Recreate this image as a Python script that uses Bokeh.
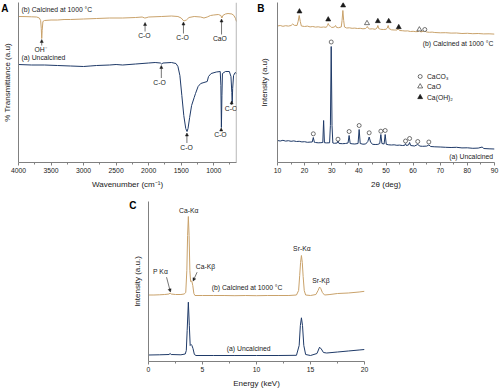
from bokeh.plotting import figure
from bokeh.models import Label, Arrow, NormalHead, FixedTicker, Span, Range1d
from bokeh.layouts import column, row
from bokeh.embed import file_html
from bokeh.resources import INLINE

FONT = "Liberation Sans"
CAL = "#c9a26b"
UNC = "#1f3a68"
AX = "#808080"
TXT = "#1a1a1a"
FS = "6.8px"

# ---------------- Panel A : FTIR ----------------
ftir_cal_wn = [4000, 3900, 3800, 3720, 3680, 3660, 3650, 3643, 3636, 3625, 3600, 3500, 3400, 3300,
               3200, 3000, 2800, 2600, 2400, 2200, 2100, 2060, 2040, 2000, 1800, 1650, 1550, 1500,
               1460, 1420, 1380, 1300, 1200, 1150, 1100, 1050, 1000, 930, 890, 875, 860, 820, 780,
               720, 690, 665, 650]
ftir_cal_t = [146, 145.9, 145.7, 145.5, 144.5, 142, 134, 124, 132, 141, 142, 142.5, 142.5, 143,
              143, 143.5, 144, 144.5, 144.5, 145, 145.5, 144.5, 144.7, 145.5, 146, 146.5, 146, 144.5,
              141.5, 142.5, 145, 146, 145.5, 144.5, 145.5, 147, 147.5, 148, 147, 144.5, 147, 148.5, 149,
              148.5, 147, 144, 141]
ftir_unc_wn = [4000, 3800, 3600, 3400, 3200, 3000, 2900, 2800, 2600, 2500, 2400, 2200, 2000, 1900,
               1820, 1800, 1780, 1650, 1580, 1550, 1520, 1490, 1460, 1430, 1410, 1395, 1370, 1340,
               1300, 1280, 1240, 1200, 1150, 1100, 1080, 1040, 960, 900, 890, 882, 874, 866, 820,
               760, 735, 722, 716, 709, 695, 670, 650]
ftir_unc_t = [98, 97.5, 97.5, 97, 96.5, 96, 96.5, 97, 97.5, 98, 97.5, 98.5, 99.5, 100,
              99.5, 98.5, 99.5, 100, 99, 96, 87, 67, 47, 34, 31, 34, 45, 57,
              65, 69, 76, 79, 80, 81, 86, 89, 90.5, 91, 77, 35, 67, 89, 91,
              91, 86, 70, 60, 74, 87, 90, 89]
ftir_ticks = [4000, 3500, 3000, 2500, 2000, 1500, 1000]
ftir_minor = [3750, 3250, 2750, 2250, 1750, 1250, 750]

# ---------------- Panel B : XRD ----------------
xrd_cal_2t = [10, 11, 12, 13, 14, 15, 15.6, 16.2, 17.2, 17.6, 18.0, 18.4, 18.8, 20, 21, 22, 23, 24,
              25, 26, 27, 28, 28.4, 28.7, 29.0, 29.5, 30, 31, 31.4, 31.8, 32.5, 33.5, 33.8, 34.1,
              34.4, 34.7, 35.5, 36.5, 37.5, 38.5, 39.5, 40.5, 41.5, 42.5, 42.8, 43.1, 43.4, 44, 45,
              46, 46.7, 47.0, 47.3, 48, 49, 50, 50.5, 50.8, 51.1, 52, 53, 54, 54.4, 54.7, 55, 56, 57,
              58, 59, 60, 61, 62, 62.4, 62.8, 64.2, 65, 66, 67, 68, 70, 72, 74, 76, 78, 80, 82, 84,
              86, 88, 90]
xrd_cal_i = [136.5, 137, 136.2, 136.8, 136.4, 137, 138.5, 137.2, 137, 141, 147, 141, 136.5, 136,
             136.4, 135.6, 136, 135.4, 135.7, 135.2, 135.5, 135.2, 137, 139, 137, 136.2, 135, 135.5,
             137, 135, 134.8, 135.5, 142, 152, 142, 135.5, 134.5, 134.7, 134.2, 134.4, 134, 134.2,
             133.7, 134, 135, 136, 134.5, 133.5, 133.7, 133.2, 134.5, 137, 134, 133.2, 133, 133.2,
             134.5, 137, 134, 132.7, 132.5, 132.5, 133.3, 133.2, 132, 131.8, 131.5, 131.6, 131,
             131.2, 130.8, 131, 132.3, 130.5, 131.5, 130.5, 130.2, 130.4, 130, 129.7, 129.8, 129.4,
             129.5, 129, 129.2, 128.8, 129, 128.6, 128.7, 128.4]
xrd_unc_2t = [10, 11, 12, 13, 14, 15, 16, 17, 18, 19, 20, 21, 22, 22.8, 23.2, 23.6, 24, 25, 26,
              26.7, 27.0, 27.3, 28, 29.2, 29.5, 29.8, 30.1, 30.4, 31, 32, 32.3, 32.7, 34, 35, 36.0,
              36.4, 36.8, 37.5, 38.5, 39.7, 40.1, 40.5, 41.5, 42.5, 43.3, 43.8, 44.3, 45, 46, 47,
              47.7, 48.1, 48.5, 49.3, 49.7, 50.1, 51, 52, 53, 54, 55, 56, 56.9, 57.2, 57.5, 58.3,
              58.7, 59.1, 60.5, 61.7, 62.5, 63.5, 65, 65.8, 66.5, 68, 70, 72, 74, 76, 78, 80, 82,
              84, 85.5, 86, 88, 90]
xrd_unc_i = [22, 21.5, 22.2, 21.4, 21.8, 21.2, 21.6, 21, 21.2, 20.6, 20.8, 20.2, 20.4, 20.5, 25,
             20.2, 20, 19.7, 19.8, 20, 42, 19.8, 19.6, 19.7, 37, 116, 37, 19.5, 19.2, 19.5, 21.5,
             19, 18.8, 19, 19.5, 27, 19, 18.7, 18.5, 19, 33, 19, 18.3, 18.5, 21, 25.5, 20.5, 18.2,
             18, 18.1, 19, 28, 19, 18.5, 28, 18.2, 17.7, 17.5, 17.7, 17.2, 17.4, 17, 17.2, 18.8,
             17, 17.5, 20, 17, 16.5, 18, 16.4, 16.2, 16.4, 17.5, 16, 15.7, 15.5, 15.2, 15, 15.2,
             14.6, 14.7, 14.2, 14.4, 15.5, 14, 13.7, 13.5]
caoh2_2t = [18.1, 28.7, 34.2, 47.0, 51.0, 54.7]
caoh2_i = [151, 143, 157, 141.3, 141.3, 135.3]
cao_2t = [43.0, 62.3]
cao_i = [139.3, 133]
caco3_cal_2t = [64.3]
caco3_cal_i = [133]
caco3_2t = [23.2, 29.8, 32.3, 36.4, 40.1, 43.8, 48.1, 49.7, 57.2, 58.7, 61.7, 65.8]
caco3_i = [28.7, 120.5, 23.3, 31, 37, 29.7, 31.3, 32, 21.5, 24, 21, 20.5]
legend_names = ["CaCO\u2083", "CaO", "Ca(OH)\u2082"]
xrd_ticks = [10, 20, 30, 40, 50, 60, 70, 80, 90]
xrd_minor = [15, 25, 35, 45, 55, 65, 75, 85]

# ---------------- Panel C : EDS ----------------
eds_cal_e = [0, 0.5, 1.0, 1.5, 1.9, 2.0, 2.1, 2.5, 3.0, 3.3, 3.45, 3.55, 3.62, 3.69, 3.76, 3.83, 3.9,
             4.01, 4.1, 4.2, 4.3, 5, 6, 7, 8, 9, 10, 11, 12, 13, 13.7, 13.9, 14.0, 14.08, 14.16,
             14.24, 14.32, 14.42, 14.55, 15, 15.5, 15.7, 15.84, 15.95, 16.1, 16.3, 16.8, 17.5,
             18.5, 19.5, 20]
eds_cal_i = [66.5, 66.5, 66.7, 67, 67.5, 68.5, 67.5, 67, 67, 67.5, 69, 91, 126, 145, 126, 91, 80,
             80.5, 76, 68, 66, 66, 66, 66, 65.8, 66, 65.8, 66, 66, 66, 66.5, 71, 86, 99, 106,
             99, 85, 71, 66.5, 66, 67, 71, 74.5, 73, 69, 66.5, 67, 68,
             68.5, 69.5, 70.2]
eds_unc_e = [0, 1, 1.9, 2.0, 2.1, 3.0, 3.4, 3.5, 3.58, 3.69, 3.78, 3.86, 3.95, 4.02, 4.12, 4.25,
             4.4, 6, 8, 10, 12, 13.7, 13.95, 14.06, 14.16, 14.26, 14.38, 14.55, 15, 15.6, 15.84,
             16.0, 16.2, 16.5, 17.5, 18.5, 19.5, 20]
eds_unc_i = [6.5, 6.7, 7, 8, 7, 6.7, 7.5, 11, 31, 59.3, 36, 16, 17, 16, 13, 7,
             6, 6, 6, 6, 6, 6.2, 16, 36, 43.7, 36, 16, 7, 6, 8, 14.3,
             12.5, 9, 8.5, 9.5, 10.5, 11.5, 12]
eds_ticks = [0, 5, 10, 15, 20]
eds_minor = [2.5, 7.5, 12.5, 17.5]

panel_letters = ["A", "B", "C"]


def style(p, xt, xm, xlabel, ylabel, letter, letter_y, letter_standoff, ystand):
    p.outline_line_color = None
    p.background_fill_color = "white"
    p.border_fill_color = "white"
    p.grid.visible = False
    for ax in p.axis:
        ax.axis_line_color = AX
        ax.axis_line_width = 1
        ax.major_tick_line_color = AX
        ax.minor_tick_line_color = AX
        ax.major_label_text_font = FONT
        ax.major_label_text_font_size = FS
        ax.major_label_text_color = TXT
        ax.axis_label_text_font = FONT
        ax.axis_label_text_font_size = "8px"
        ax.axis_label_text_font_style = "normal"
        ax.axis_label_text_color = TXT
    p.xaxis.ticker = FixedTicker(ticks=xt, minor_ticks=xm)
    p.xaxis.major_tick_out = 3
    p.xaxis.major_tick_in = 0
    p.xaxis.minor_tick_out = 2
    p.xaxis.minor_tick_in = 0
    p.xaxis.major_label_standoff = 2
    p.xaxis.axis_label_standoff = 4
    p.xaxis.axis_label = xlabel
    # the y axis carries no values (a.u.); its single tick label is the panel letter
    p.yaxis.ticker = FixedTicker(ticks=[letter_y], minor_ticks=[])
    p.yaxis.major_label_overrides = {letter_y: letter}
    p.yaxis.major_label_text_font_size = "10px"
    p.yaxis.major_label_text_font_style = "bold"
    p.yaxis.major_label_text_color = "black"
    p.yaxis.major_tick_line_color = None
    p.yaxis.major_tick_out = 0
    p.yaxis.major_tick_in = 0
    p.yaxis.minor_tick_out = 0
    p.yaxis.minor_tick_in = 0
    p.yaxis.major_label_standoff = letter_standoff
    p.yaxis.axis_label_standoff = ystand
    p.yaxis.axis_label = ylabel


def lab(p, x, y, text, align="center", size=FS):
    p.add_layout(Label(x=x, y=y, text=text, text_align=align, text_baseline="middle",
                       text_font=FONT, text_font_size=size, text_color=TXT))


def arr(p, x0, y0, x1, y1):
    p.add_layout(Arrow(end=NormalHead(size=3, line_color=TXT, line_width=0.5, fill_color=TXT),
                       x_start=x0, y_start=y0, x_end=x1, y_end=y1,
                       line_width=0.6, line_color=TXT))


# ---- Figure A ----
pA = figure(width=256, height=196, x_range=Range1d(4000, 650), y_range=Range1d(0, 160),
            toolbar_location=None, output_backend="svg", title=None,
            min_border_left=18, min_border_right=20, min_border_top=2, min_border_bottom=34)
style(pA, ftir_ticks, ftir_minor, "Wavenumber (cm\u207b\u00b9)", "% Transmittance (a.u)",
      panel_letters[0], 159, 10, -14)
pA.line(ftir_cal_wn, ftir_cal_t, line_color=CAL, line_width=1)
pA.line(ftir_unc_wn, ftir_unc_t, line_color=UNC, line_width=1)
pA.add_layout(Span(location=652, dimension="height", line_color=AX, line_width=1))
lab(pA, 3954, 153, "(b) Calcined at 1000 \u00b0C", align="left")
lab(pA, 3662, 113, "OH\u207b")
arr(pA, 3643, 117, 3643, 123)
lab(pA, 2065, 127, "C-O")
arr(pA, 2055, 131, 2055, 140)
lab(pA, 1480, 125, "C-O")
arr(pA, 1465, 129, 1465, 140.5)
lab(pA, 905, 124, "CaO")
arr(pA, 880, 128, 880, 143.5)
lab(pA, 3954, 105, "(a) Uncalcined", align="left")
lab(pA, 1834, 80, "C-O")
arr(pA, 1805, 84.5, 1805, 97)
lab(pA, 1419, 15, "C-O")
arr(pA, 1412, 19.5, 1412, 29.5)
lab(pA, 897, 28, "C-O")
arr(pA, 885, 31.5, 885, 34.5)
lab(pA, 735, 54, "C-O")
arr(pA, 725, 57.5, 725, 61.5)

# ---- Figure B ----
pB = figure(width=243, height=196, x_range=Range1d(10, 90), y_range=Range1d(0, 160),
            toolbar_location=None, output_backend="svg", title=None,
            min_border_left=21, min_border_right=5, min_border_top=2, min_border_bottom=34)
style(pB, xrd_ticks, xrd_minor, "2\u03b8 (deg)", "Intensity (a.u)",
      panel_letters[1], 159, 13, -15)
pB.line(xrd_cal_2t, xrd_cal_i, line_color=CAL, line_width=1)
pB.line(xrd_unc_2t, xrd_unc_i, line_color=UNC, line_width=1)
pB.scatter(caoh2_2t, caoh2_i, marker="triangle", size=5, fill_color=TXT, line_color=TXT, line_width=0.6)
pB.scatter(cao_2t, cao_i, marker="triangle", size=5, fill_color="white", line_color=TXT, line_width=0.6)
pB.scatter(caco3_cal_2t, caco3_cal_i, marker="circle", size=4, fill_color="white", line_color=TXT, line_width=0.6)
pB.scatter(caco3_2t, caco3_i, marker="circle", size=4, fill_color="white", line_color=TXT, line_width=0.6)
leg_y = [86, 76, 65.3]
pB.scatter([62.6], [leg_y[0]], marker="circle", size=4, fill_color="white", line_color=TXT, line_width=0.6)
pB.scatter([62.6], [leg_y[1]], marker="triangle", size=5, fill_color="white", line_color=TXT, line_width=0.6)
pB.scatter([62.6], [leg_y[2]], marker="triangle", size=5, fill_color=TXT, line_color=TXT, line_width=0.6)
for name, yy in zip(legend_names, leg_y):
    lab(pB, 65.1, yy, name, align="left")
lab(pB, 89.6, 119.5, "(b) Calcined at 1000 \u00b0C", align="right")
lab(pB, 89.5, 6.3, "(a) Uncalcined", align="right")

# ---- Figure C ----
pC = figure(width=499, height=195, x_range=Range1d(0, 20), y_range=Range1d(0, 160),
            toolbar_location=None, output_backend="svg", title=None,
            min_border_left=148, min_border_right=135, min_border_top=5, min_border_bottom=30)
style(pC, eds_ticks, eds_minor, "Energy (keV)", "Intensity (a.u.)",
      panel_letters[2], 156, 12, -16)
pC.line(eds_cal_e, eds_cal_i, line_color=CAL, line_width=1)
pC.line(eds_unc_e, eds_unc_i, line_color=UNC, line_width=1)
lab(pC, 3.73, 151, "Ca-K\u03b1")
lab(pC, 5.27, 95, "Ca-K\u03b2")
arr(pC, 4.5, 89.3, 4.13, 80.5)
lab(pC, 1.11, 90, "P K\u03b1")
arr(pC, 1.67, 84.3, 2.03, 69.5)
lab(pC, 9.13, 74.3, "(b) Calcined at 1000 \u00b0C")
lab(pC, 14.2, 112.7, "Sr-K\u03b1")
lab(pC, 15.97, 81, "Sr-K\u03b2")
lab(pC, 9.28, 12.7, "(a) Uncalcined")

layout = column(row(pA, pB), pC)
open("out.html", "w").write(file_html(layout, INLINE))
